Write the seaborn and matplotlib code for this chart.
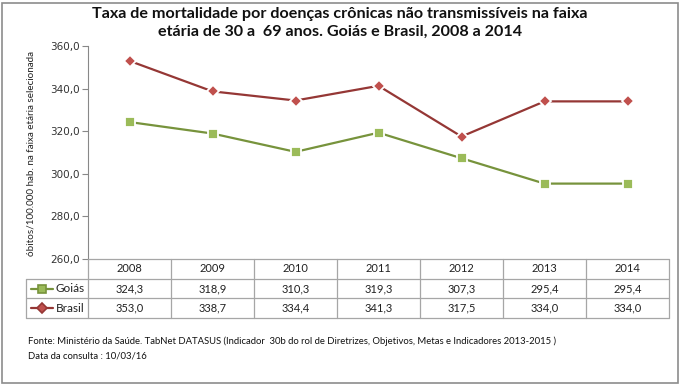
import numpy as np
import pandas as pd
import matplotlib
matplotlib.use("Agg")
import matplotlib.pyplot as plt
import seaborn as sns
from matplotlib.patches import Rectangle

# data
years = ["2008", "2009", "2010", "2011", "2012", "2013", "2014"]
goias = [324.3, 318.9, 310.3, 319.3, 307.3, 295.4, 295.4]
brasil = [353.0, 338.7, 334.4, 341.3, 317.5, 334.0, 334.0]
series_names = ["Goiás", "Brasil"]
y_ticks = [260, 280, 300, 320, 340, 360]

title = ("Taxa de mortalidade por doenças crônicas não transmissíveis na faixa\n"
         "etária de 30 a  69 anos. Goiás e Brasil, 2008 a 2014")
ylabel = "óbitos/100.000 hab. na faixa etária selecionada"
source = ("Fonte: Ministério da Saúde. TabNet DATASUS (Indicador  30b do rol de Diretrizes, "
          "Objetivos, Metas e Indicadores 2013-2015 )")
consult = "Data da consulta : 10/03/16"

sns.set_style("white")
plt.rcParams["font.family"] = ["Lato", "DejaVu Sans"]

W, H = 680, 384
fig = plt.figure(figsize=(W / 100, H / 100), dpi=100)

green_line, green_face = "#77933C", "#9BBB59"
red_line, red_face = "#953735", "#C0504D"
grid_col = "#A6A6A6"

# main plot area (pixel layout)
x0, x1, ytop, ybot = 88, 669, 46, 259
ax = fig.add_axes([x0 / W, 1 - ybot / H, (x1 - x0) / W, (ybot - ytop) / H])

df = pd.DataFrame({
    "pos": list(range(len(years))) * 2,
    "valor": goias + brasil,
    "serie": [series_names[0]] * len(years) + [series_names[1]] * len(years),
})
sns.lineplot(data=df, x="pos", y="valor", hue="serie", style="serie",
             palette={"Goiás": green_line, "Brasil": red_line},
             markers={"Goiás": "s", "Brasil": "D"}, dashes=False,
             markersize=7, linewidth=1.6, legend=False, ax=ax)
for line, face, ms in zip(ax.lines, [green_face, red_face], [7, 6.5]):
    line.set_markerfacecolor(face)
    line.set_markeredgewidth(1.3)
    line.set_markersize(ms)

ax.set_xlim(-0.5, len(years) - 0.5)
ax.set_ylim(260, 360)
ax.set_yticks(y_ticks)
ax.set_yticklabels([f"{t:.1f}".replace(".", ",") for t in y_ticks],
                   fontsize=7.5, family="DejaVu Sans", color="#333333")
ax.set_xticks([])
ax.set_xlabel("")
ax.set_ylabel("")
ax.tick_params(axis="y", left=True, length=4, width=0.8, color="#888888", pad=2)
for s in ["top", "right", "bottom"]:
    ax.spines[s].set_visible(False)
ax.spines["left"].set_color("#888888")
ax.spines["left"].set_linewidth(0.8)

fig.text(31 / W, 1 - 154 / H, ylabel, rotation=90, ha="center", va="center",
         fontsize=7.1, color="#222222")

# data table under the plot
colw = (x1 - x0) / len(years)
legw = (x0 - 26) / colw
tab = fig.add_axes([26 / W, 1 - 318 / H, (x1 - 26) / W, (318 - 259) / H])
tab.set_xlim(-0.5 - legw, len(years) - 0.5)
tab.set_ylim(3, 0)
tab.axis("off")
lk = dict(color=grid_col, lw=0.9, clip_on=False)
tab.plot([-0.5, len(years) - 0.5], [0, 0], **lk)
for r in [1, 2, 3]:
    tab.plot([-0.5 - legw, len(years) - 0.5], [r, r], **lk)
tab.plot([-0.5 - legw] * 2, [1, 3], **lk)
for c in range(len(years) + 1):
    tab.plot([c - 0.5] * 2, [0, 3], **lk)

tfont = dict(ha="center", va="center", fontsize=8, color="#222222")
for i, yr in enumerate(years):
    tab.text(i, 0.5, yr, **tfont)
    tab.text(i, 1.5, f"{goias[i]:.1f}".replace(".", ","), **tfont)
    tab.text(i, 2.5, f"{brasil[i]:.1f}".replace(".", ","), **tfont)

lx0 = -0.5 - legw
for row, name, lc, fc, mk in [(1.5, series_names[0], green_line, green_face, "s"),
                              (2.5, series_names[1], red_line, red_face, "D")]:
    tab.plot([lx0 + 0.06, lx0 + 0.32], [row, row], color=lc, lw=1.6, clip_on=False)
    tab.plot([lx0 + 0.19], [row], marker=mk, ms=6 if mk == "s" else 5.5,
             mfc=fc, mec=lc, mew=1.2, clip_on=False)
    tab.text(lx0 + 0.36, row, name, ha="left", va="center", fontsize=8.5, color="#222222")

# title and footer
fig.text(0.5, 1 - 23 / H, title, ha="center", va="center", fontsize=11.6,
         fontweight="bold", linespacing=1.3, color="#111111")
fig.text(28 / W, 1 - 341 / H, source, ha="left", va="center", fontsize=6.8, color="#111111")
fig.text(28 / W, 1 - 356 / H, consult, ha="left", va="center", fontsize=6.8, color="#111111")

# outer frame
fig.patches.append(Rectangle((1.5 / W, 1.5 / H), (W - 4) / W, (H - 4) / H,
                             transform=fig.transFigure, fill=False,
                             edgecolor="#8C8C8C", lw=1.2))

fig.savefig("out.png", dpi=100)
